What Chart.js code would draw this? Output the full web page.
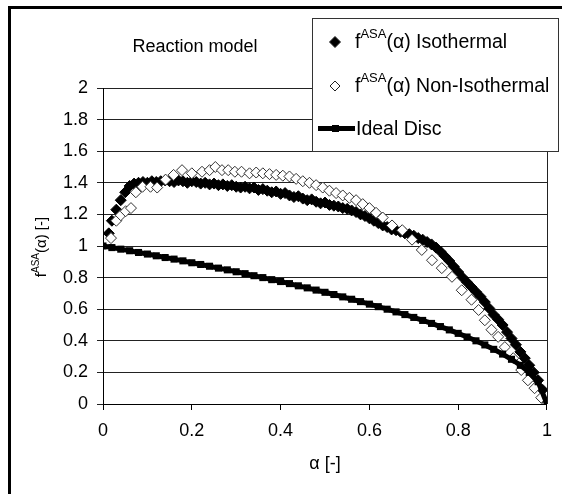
<!DOCTYPE html>
<html>
<head>
<meta charset="utf-8">
<script src="https://cdn.jsdelivr.net/npm/chart.js@4"></script>
<style>
  html, body { margin: 0; padding: 0; background: #ffffff; }
  #wrap { position: relative; width: 562px; height: 494px; }
</style>
</head>
<body>
<div id="wrap"><canvas id="chart" width="562" height="494"></canvas></div>
<script>
// values
const isoAlpha = [0.013, 0.02, 0.03, 0.04, 0.05, 0.06, 0.07, 0.08, 0.09, 0.10,
  0.11, 0.12, 0.13, 0.14, 0.15, 0.16, 0.17, 0.18, 0.19, 0.20,
  0.21, 0.22, 0.23, 0.24, 0.25, 0.26, 0.27, 0.28, 0.29, 0.30,
  0.31, 0.32, 0.33, 0.34, 0.35, 0.36, 0.37, 0.38, 0.39, 0.40,
  0.41, 0.42, 0.43, 0.44, 0.45, 0.46, 0.47, 0.48, 0.49, 0.50,
  0.51, 0.52, 0.53, 0.54, 0.55, 0.56, 0.57, 0.58, 0.59, 0.60,
  0.61, 0.62, 0.63, 0.64, 0.65, 0.66, 0.67, 0.68, 0.69, 0.70,
  0.71, 0.72, 0.73, 0.74, 0.75, 0.76, 0.77, 0.78, 0.79, 0.80,
  0.81, 0.82, 0.83, 0.84, 0.85, 0.86, 0.87, 0.88, 0.89, 0.90,
  0.91, 0.92, 0.93, 0.94, 0.95, 0.96, 0.97, 0.98, 0.99, 1.00];
const isoValues = [1.08, 1.16, 1.23, 1.29, 1.34, 1.38, 1.395, 1.40, 1.405, 1.40,
  1.41, 1.405, 1.41, 1.415, 1.41, 1.405, 1.415, 1.41, 1.40, 1.41,
  1.405, 1.395, 1.40, 1.39, 1.395, 1.385, 1.39, 1.38, 1.385, 1.375,
  1.37, 1.375, 1.365, 1.37, 1.355, 1.36, 1.35, 1.34, 1.345, 1.33,
  1.335, 1.32, 1.31, 1.315, 1.30, 1.29, 1.295, 1.28, 1.27, 1.275,
  1.26, 1.255, 1.25, 1.24, 1.235, 1.225, 1.215, 1.20, 1.19, 1.175,
  1.16, 1.145, 1.13, 1.12, 1.105, 1.10, 1.09, 1.08, 1.075, 1.065,
  1.05, 1.04, 1.025, 1.01, 0.99, 0.965, 0.935, 0.905, 0.87, 0.835,
  0.80, 0.77, 0.74, 0.71, 0.68, 0.645, 0.605, 0.565, 0.535, 0.50,
  0.455, 0.415, 0.375, 0.33, 0.29, 0.245, 0.20, 0.15, 0.09, 0.01];

const nonIsoAlpha = [0.018, 0.03, 0.04, 0.051, 0.063, 0.074, 0.089, 0.107, 0.122, 0.141,
  0.159, 0.178, 0.20, 0.223, 0.24, 0.253, 0.268, 0.282, 0.297, 0.312,
  0.33, 0.345, 0.36, 0.375, 0.39, 0.405, 0.42, 0.435, 0.45, 0.465,
  0.48, 0.495, 0.51, 0.525, 0.54, 0.555, 0.57, 0.585, 0.60, 0.615,
  0.63, 0.651, 0.674, 0.696, 0.718, 0.741, 0.763, 0.786, 0.808, 0.83,
  0.846, 0.86, 0.875, 0.89, 0.905, 0.924, 0.942, 0.957, 0.972, 0.987, 1.0];
const nonIsoValues = [1.05, 1.16, 1.195, 1.22, 1.24, 1.34, 1.375, 1.375, 1.37, 1.42,
  1.45, 1.48, 1.46, 1.47, 1.48, 1.50, 1.48, 1.48, 1.47, 1.47,
  1.46, 1.465, 1.46, 1.455, 1.45, 1.445, 1.44, 1.425, 1.41, 1.40,
  1.385, 1.37, 1.35, 1.335, 1.32, 1.305, 1.29, 1.265, 1.24, 1.21,
  1.18, 1.13, 1.10, 1.04, 0.975, 0.91, 0.86, 0.805, 0.72, 0.66,
  0.595, 0.53, 0.47, 0.425, 0.36, 0.29, 0.215, 0.15, 0.10, 0.04, 0.0];

const discAlpha = [0, 0.02, 0.04, 0.06, 0.08, 0.10, 0.12, 0.14, 0.16, 0.18,
  0.20, 0.22, 0.24, 0.26, 0.28, 0.30, 0.32, 0.34, 0.36, 0.38,
  0.40, 0.42, 0.44, 0.46, 0.48, 0.50, 0.52, 0.54, 0.56, 0.58,
  0.60, 0.62, 0.64, 0.66, 0.68, 0.70, 0.72, 0.74, 0.76, 0.78,
  0.80, 0.82, 0.84, 0.86, 0.88, 0.90, 0.92, 0.94, 0.96, 0.98, 1.0];
const discValues = [1.0, 0.99, 0.98, 0.97, 0.959, 0.949, 0.938, 0.927, 0.917, 0.906,
  0.894, 0.883, 0.872, 0.86, 0.849, 0.837, 0.825, 0.812, 0.80, 0.787,
  0.775, 0.762, 0.748, 0.735, 0.721, 0.707, 0.693, 0.678, 0.663, 0.648,
  0.632, 0.616, 0.60, 0.583, 0.566, 0.548, 0.529, 0.51, 0.49, 0.469,
  0.447, 0.424, 0.40, 0.374, 0.346, 0.316, 0.283, 0.245, 0.20, 0.141, 0.0];

const seriesNames = ['Isothermal', 'Non-Isothermal', 'Ideal Disc'];
const xTicks = [0, 0.2, 0.4, 0.6, 0.8, 1];
const yTicks = [0, 0.2, 0.4, 0.6, 0.8, 1, 1.2, 1.4, 1.6, 1.8, 2];

const FONT = "'Liberation Sans', Arial, sans-serif";

const toPoints = (xs, ys) => xs.map((x, i) => ({ x: x, y: ys[i] }));

// draws text pieces left to right, superscripts raised
function richText(ctx, parts, x, y, measureOnly) {
    let w = 0;
    parts.forEach(p => {
        ctx.font = p.size + 'px ' + FONT;
        if (!measureOnly) ctx.fillText(p.t, x + w, y - (p.up || 0));
        w += ctx.measureText(p.t).width;
    });
    return w;
}

function diamond(ctx, cx, cy, r, fill) {
    ctx.beginPath();
    ctx.moveTo(cx - r, cy);
    ctx.lineTo(cx, cy - r);
    ctx.lineTo(cx + r, cy);
    ctx.lineTo(cx, cy + r);
    ctx.closePath();
    ctx.fillStyle = fill;
    ctx.fill();
    ctx.lineWidth = 1;
    ctx.strokeStyle = '#222';
    ctx.stroke();
}

const decor = {
    id: 'decor',
    beforeDraw(chart) {
        const ctx = chart.ctx;
        ctx.save();
        ctx.fillStyle = '#ffffff';
        ctx.fillRect(0, 0, chart.width, chart.height);
        ctx.restore();
    },
    beforeDatasetsDraw(chart) {
        // plot area right border
        const { ctx, chartArea } = chart;
        ctx.save();
        ctx.strokeStyle = '#222';
        ctx.lineWidth = 1;
        ctx.beginPath();
        ctx.moveTo(Math.round(chartArea.right) + 0.5, chartArea.top);
        ctx.lineTo(Math.round(chartArea.right) + 0.5, chartArea.bottom);
        ctx.stroke();
        ctx.restore();
    },
    afterDraw(chart) {
        const ctx = chart.ctx;
        ctx.save();
        ctx.fillStyle = '#000';
        // outer frame
        ctx.fillRect(8, 6, chart.width - 8, 3);
        ctx.fillRect(8, 6, 3, chart.height - 6);

        ctx.textBaseline = 'alphabetic';
        ctx.textAlign = 'left';
        ctx.font = '18px ' + FONT;
        const tw = ctx.measureText('Reaction model').width;
        ctx.fillText('Reaction model', 195 - tw / 2, 52);

        // y axis title
        const yParts = [{ t: 'f', size: 15 }, { t: 'ASA', size: 10, up: 7 }, { t: '(\u03b1) [-]', size: 15 }];
        ctx.save();
        ctx.translate(46, 247);
        ctx.rotate(-Math.PI / 2);
        const yw = richText(ctx, yParts, 0, 0, true);
        richText(ctx, yParts, -yw / 2, 0);
        ctx.restore();

        // legend box
        ctx.fillStyle = '#fff';
        ctx.fillRect(312, 18, 247, 134);
        ctx.strokeStyle = '#333';
        ctx.lineWidth = 1;
        ctx.strokeRect(312.5, 18.5, 246, 133);

        diamond(ctx, 335, 42, 5.5, '#000');
        diamond(ctx, 335, 86, 5, '#fff');
        ctx.fillStyle = '#000';
        ctx.fillRect(318, 126, 37, 5);
        ctx.fillRect(332, 125, 7, 7);

        ctx.fillStyle = '#000';
        richText(ctx, [{ t: 'f', size: 19.5 }, { t: 'ASA', size: 13, up: 10 }, { t: '(\u03b1) ' + seriesNames[0], size: 19.5 }], 355, 48);
        richText(ctx, [{ t: 'f', size: 19.5 }, { t: 'ASA', size: 13, up: 10 }, { t: '(\u03b1) ' + seriesNames[1], size: 19.5 }], 355, 92);
        richText(ctx, [{ t: seriesNames[2], size: 19.5 }], 356, 135);
        ctx.restore();
    }
};

new Chart(document.getElementById('chart'), {
    type: 'scatter',
    data: {
        datasets: [
            {
                label: seriesNames[0],
                data: toPoints(isoAlpha, isoValues),
                pointStyle: 'rectRot',
                pointRadius: 5.5,
                backgroundColor: '#000',
                borderColor: '#000',
                borderWidth: 1,
                order: 3
            },
            {
                label: seriesNames[1],
                data: toPoints(nonIsoAlpha, nonIsoValues),
                pointStyle: 'rectRot',
                pointRadius: 5.5,
                backgroundColor: '#fff',
                borderColor: '#333',
                borderWidth: 1,
                order: 2
            },
            {
                label: seriesNames[2],
                data: toPoints(discAlpha, discValues),
                showLine: true,
                pointStyle: 'rect',
                pointRadius: 5,
                backgroundColor: '#000',
                borderColor: '#000',
                borderWidth: 5,
                pointBorderWidth: 0,
                order: 1
            }
        ]
    },
    options: {
        responsive: false,
        devicePixelRatio: 1,
        animation: false,
        layout: { padding: { left: 0, top: 88, right: 13, bottom: 0 } },
        plugins: {
            legend: { display: false },
            tooltip: { enabled: false }
        },
        scales: {
            x: {
                type: 'linear',
                min: 0,
                max: 1,
                afterFit: s => { s.height = 90; },
                afterBuildTicks: s => { s.ticks = xTicks.map(v => ({ value: v })); },
                grid: { drawOnChartArea: false, drawTicks: true, tickLength: 6, color: '#000' },
                border: { display: true, color: '#000', width: 1 },
                ticks: {
                    padding: 10,
                    color: '#000',
                    font: { family: FONT, size: 18 },
                    callback: v => String(v)
                },
                title: {
                    display: true,
                    text: '\u03b1 [-]',
                    color: '#000',
                    font: { family: FONT, size: 18 },
                    padding: { top: 0, bottom: 19 }
                }
            },
            y: {
                type: 'linear',
                min: 0,
                max: 2,
                afterFit: s => { s.width = 103; },
                afterBuildTicks: s => { s.ticks = yTicks.map(v => ({ value: v })); },
                grid: { drawTicks: true, tickLength: 6, color: '#222' },
                border: { display: true, color: '#000', width: 1 },
                ticks: {
                    padding: 9,
                    color: '#000',
                    font: { family: FONT, size: 18 },
                    callback: v => String(v)
                }
            }
        }
    },
    plugins: [decor]
});
</script>
</body>
</html>
